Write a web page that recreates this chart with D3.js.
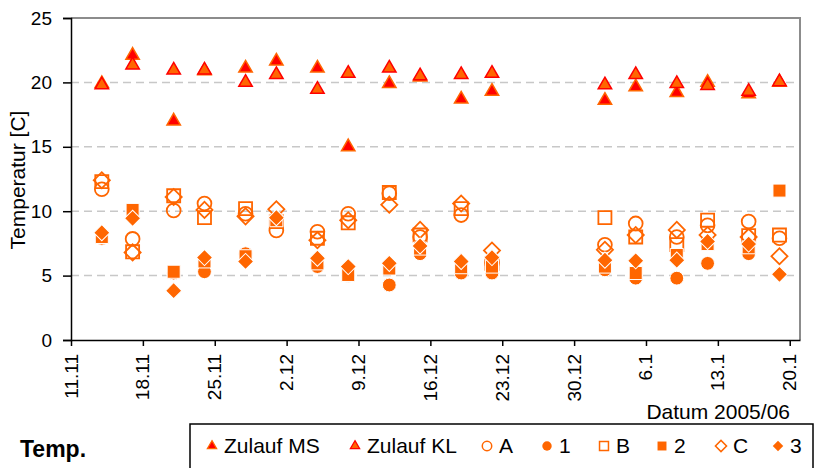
<!DOCTYPE html>
<html>
<head>
<meta charset="utf-8">
<script src="https://cdn.jsdelivr.net/npm/d3@7"></script>
<style>
  body { margin: 0; background: #fff; }
  svg { font-family: "Liberation Sans", Arial, sans-serif; }
</style>
</head>
<body>
<script>
// measurement dates (2005/06)
var dates = ["2005-11-14", "2005-11-17", "2005-11-21", "2005-11-24", "2005-11-28", "2005-12-01",
             "2005-12-05", "2005-12-08", "2005-12-12", "2005-12-15", "2005-12-19", "2005-12-22",
             "2006-01-02", "2006-01-05", "2006-01-09", "2006-01-12", "2006-01-16", "2006-01-19"];

var zulaufMS = [19.9, 22.1, 17.0, 20.9, 21.1, 21.65, 21.1, 15.0, 19.9, 20.4, 18.7, 19.3, 18.6, 19.65, 19.2, 20.0, 19.1, 20.0];
var zulaufKL = [19.8, 21.35, 20.95, 20.95, 20.0, 20.6, 19.45, 20.7, 21.1, 20.5, 20.6, 20.7, 19.8, 20.6, 19.9, 19.75, 19.3, 20.05];
var serA = [11.7, 7.85, 10.05, 10.6, 9.8, 8.5, 8.4, 9.8, 11.4, 8.0, 9.7, 6.0, 7.4, 9.05, 8.0, 8.9, 9.2, 7.9];
var ser1 = [7.9, 10.0, 5.2, 5.3, 6.7, 9.4, 5.7, 5.0, 4.27, 6.7, 5.2, 5.2, 5.45, 4.8, 4.8, 5.95, 6.7, null];
var serB = [12.3, 6.85, 11.2, 9.5, 10.2, 9.2, 7.9, 9.1, 11.45, 8.15, 10.2, 5.95, 9.5, 8.0, 7.4, 9.3, 8.1, 8.15];
var ser2 = [8.0, 10.1, 5.3, 6.1, 6.5, 9.3, 5.95, 5.05, 5.55, 7.1, 5.65, 5.7, 5.7, 5.2, 6.6, 7.45, 7.2, 11.6];
var serC = [12.4, 6.8, 11.1, 10.1, 9.6, 10.15, 7.75, 9.3, 10.5, 8.55, 10.6, 6.95, 7.0, 8.15, 8.55, 8.15, 8.0, 6.5];
var ser3 = [8.33, 9.45, 3.83, 6.4, 6.1, 9.5, 6.35, 5.7, 5.95, 7.3, 6.1, 6.4, 6.2, 6.15, 6.2, 7.65, 7.45, 5.1];

var tickDates = ["2005-11-11", "2005-11-18", "2005-11-25", "2005-12-02", "2005-12-09", "2005-12-16",
                 "2005-12-23", "2005-12-30", "2006-01-06", "2006-01-13", "2006-01-20"];
var yTicks = [0, 5, 10, 15, 20, 25];

var w = 816, h = 468;
var mLeft = 71, mRight = 800, mTop = 18, mBottom = 340;
var orange = "#ff6600", red = "#ff0000";

var parseDate = d3.timeParse("%Y-%m-%d");
var formatTick = d3.timeFormat("%-d.%-m");

var xScale = d3.scaleTime()
    .domain([parseDate("2005-11-11"), parseDate("2006-01-21")])
    .range([mLeft, mRight]);
var yScale = d3.scaleLinear().domain([0, 25]).range([mBottom, mTop]);

var svg = d3.select("body").append("svg")
    .attr("width", w)
    .attr("height", h);

// grid
svg.append("g").selectAll("line")
    .data([5, 10, 15, 20])
    .enter().append("line")
    .attr("x1", mLeft).attr("x2", mRight)
    .attr("y1", function(d) { return yScale(d); })
    .attr("y2", function(d) { return yScale(d); })
    .attr("stroke", "#c8c8c8")
    .attr("stroke-width", 1.5)
    .attr("stroke-dasharray", "8,5");

// plot border top/right
svg.append("path")
    .attr("d", "M" + mLeft + "," + mTop + "H" + mRight + "V" + mBottom)
    .attr("fill", "none")
    .attr("stroke", "#8c8c8c")
    .attr("stroke-width", 2);

// axes
var yAxis = d3.axisLeft(yScale).tickValues(yTicks).tickSize(8).tickPadding(11);
var gy = svg.append("g").attr("transform", "translate(" + mLeft + ",0)").call(yAxis);
gy.select(".domain").attr("stroke-width", 1.5);
gy.selectAll(".tick line").attr("stroke-width", 1.5);
gy.selectAll("text").attr("font-size", "19px").attr("font-family", "Liberation Sans, Arial").attr("fill", "#000");

var xAxis = d3.axisBottom(xScale)
    .tickValues(tickDates.map(parseDate))
    .tickFormat(formatTick)
    .tickSize(6)
    .tickSizeOuter(0);
var gx = svg.append("g").attr("transform", "translate(0," + mBottom + ")").call(xAxis);
gx.select(".domain").attr("stroke-width", 1.5);
gx.selectAll(".tick line").attr("stroke-width", 1.5);
gx.selectAll("text")
    .attr("font-size", "19px")
    .attr("font-family", "Liberation Sans, Arial")
    .attr("fill", "#000")
    .attr("text-anchor", "end")
    .attr("dy", null)
    .attr("y", 0)
    .attr("transform", "translate(6,14) rotate(-90)");

svg.append("text")
    .attr("transform", "translate(25,180) rotate(-90)")
    .attr("text-anchor", "middle")
    .attr("font-size", "21px")
    .text("Temperatur [C]");

svg.append("text")
    .attr("x", 790).attr("y", 419)
    .attr("text-anchor", "end")
    .attr("font-size", "21px")
    .text("Datum 2005/06");

// series definitions
var series = [
  { name: "Zulauf MS", values: zulaufMS, type: d3.symbolTriangle, size: 78, fill: red, stroke: orange, sw: 1.5, rot: 0, ls: 38 },
  { name: "Zulauf KL", values: zulaufKL, type: d3.symbolTriangle, size: 78, fill: orange, stroke: red, sw: 1.5, rot: 0, ls: 38 },
  { name: "A", values: serA, type: d3.symbolCircle, size: 150, fill: "none", stroke: orange, sw: 1.8, rot: 0, ls: 70 },
  { name: "1", values: ser1, type: d3.symbolCircle, size: 150, fill: orange, stroke: "#fff", sw: 1, rot: 0, ls: 70 },
  { name: "B", values: serB, type: d3.symbolSquare, size: 170, fill: "none", stroke: orange, sw: 1.8, rot: 0, ls: 80 },
  { name: "2", values: ser2, type: d3.symbolSquare, size: 170, fill: orange, stroke: "#fff", sw: 1, rot: 0, ls: 80 },
  { name: "C", values: serC, type: d3.symbolSquare, size: 130, fill: "none", stroke: orange, sw: 1.8, rot: 45, ls: 62 },
  { name: "3", values: ser3, type: d3.symbolSquare, size: 130, fill: orange, stroke: "#fff", sw: 1, rot: 45, ls: 55 }
];

series.forEach(function(s) {
  var pts = dates.map(function(d, i) { return { date: parseDate(d), v: s.values[i] }; })
                 .filter(function(p) { return p.v != null; });
  svg.append("g").selectAll("path")
    .data(pts)
    .enter().append("path")
    .attr("d", d3.symbol().type(s.type).size(s.size))
    .attr("transform", function(p) {
      return "translate(" + xScale(p.date) + "," + yScale(p.v) + ") rotate(" + s.rot + ")";
    })
    .attr("fill", s.fill)
    .attr("stroke", s.stroke)
    .attr("stroke-width", s.sw);
});

// legend
svg.append("text")
    .attr("x", 20).attr("y", 457)
    .attr("font-size", "23px")
    .attr("font-weight", "bold")
    .text("Temp.");

svg.append("rect")
    .attr("x", 190).attr("y", 424)
    .attr("width", 623).attr("height", 60)
    .attr("fill", "#fff")
    .attr("stroke", "#000")
    .attr("stroke-width", 1.5);

var legendX = [212, 355, 487, 547, 604, 662, 721, 778];
var legend = svg.append("g").selectAll("g")
    .data(series)
    .enter().append("g")
    .attr("transform", function(d, i) { return "translate(" + legendX[i] + ",446)"; });
legend.append("path")
    .attr("d", function(d) { return d3.symbol().type(d.type).size(d.ls)(); })
    .attr("transform", function(d) { return "rotate(" + d.rot + ")"; })
    .attr("fill", function(d) { return d.fill; })
    .attr("stroke", function(d) { return d.fill === "none" ? d.stroke : (d.stroke === "#fff" ? "none" : d.stroke); })
    .attr("stroke-width", function(d) { return d.fill === "none" ? 1.5 : 1.2; });
legend.append("text")
    .attr("x", 12).attr("y", 7)
    .attr("font-size", "21px")
    .text(function(d) { return d.name; });
</script>
</body>
</html>
